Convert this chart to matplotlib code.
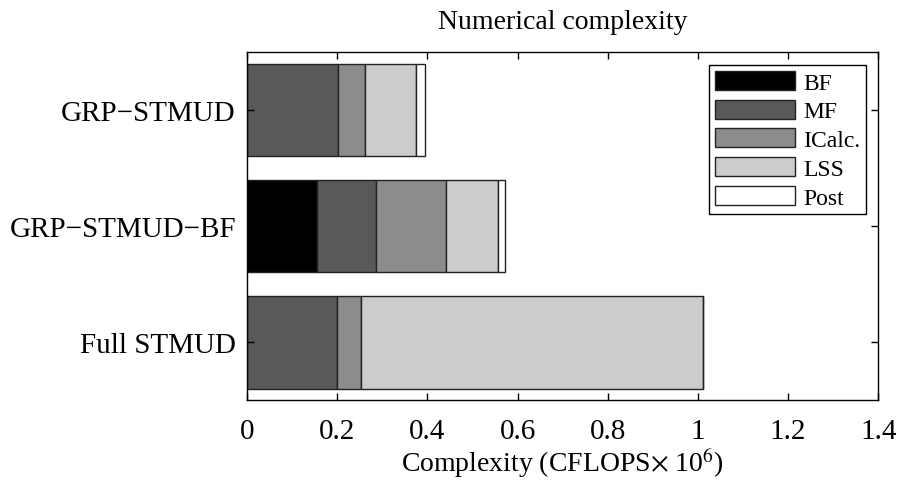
import matplotlib.pyplot as plt
import numpy as np

plt.rcParams['font.family'] = ['Liberation Serif', 'DejaVu Serif']
plt.rcParams['mathtext.fontset'] = 'stix'

schemes = ['Full STMUD', 'GRP\u2212STMUD\u2212BF', 'GRP\u2212STMUD']
parts = ['BF', 'MF', 'ICalc.', 'LSS', 'Post']
# complexity per part, in 1e6 CFLOPS (order follows schemes)
bf = [0.0, 0.155, 0.0]
mf = [0.2005, 0.132, 0.201]
icalc = [0.053, 0.155, 0.061]
lss = [0.758, 0.114, 0.112]
post = [0.0, 0.017, 0.020]
colors = ['#000000', '#595959', '#8c8c8c', '#cccccc', '#ffffff']

fig = plt.figure(figsize=(8.98, 4.81), dpi=100)
ax = fig.add_axes([0.275, 0.166, 0.703, 0.724])

pos = np.arange(1, 4)
left = np.zeros(3)
for name, vals, c in zip(parts, [bf, mf, icalc, lss, post], colors):
    ax.barh(pos, vals, left=left, height=0.8, color=c, edgecolor='#222222',
            linewidth=1.0, label=name)
    left += np.array(vals)

ax.set_xlim(0, 1.4)
ax.set_ylim(0.5, 3.5)
ax.set_xticks(np.arange(0, 1.41, 0.2))
ax.set_xticklabels(['0', '0.2', '0.4', '0.6', '0.8', '1', '1.2', '1.4'])
ax.set_yticks(pos)
ax.set_yticklabels(schemes)
ax.tick_params(direction='in', top=True, right=True, labelsize=21, length=5,
               width=1, pad=8)
ax.tick_params(axis='x', pad=13)
for s in ax.spines.values():
    s.set_linewidth(1.0)

ax.set_xlabel('Complexity (CFLOPS$\\times$ 10$^6$)', fontsize=20, labelpad=1)
ax.set_title('Numerical complexity', fontsize=20, pad=17)

leg = ax.legend(loc='upper right', bbox_to_anchor=(0.981, 0.9626), fontsize=17,
                fancybox=False, edgecolor='black', framealpha=1,
                handlelength=3.4, handleheight=0.87, labelspacing=0.255,
                handletextpad=0.35, borderpad=0.25, borderaxespad=0.0)
leg.get_frame().set_linewidth(1.0)

fig.savefig('out.png', dpi=100)
